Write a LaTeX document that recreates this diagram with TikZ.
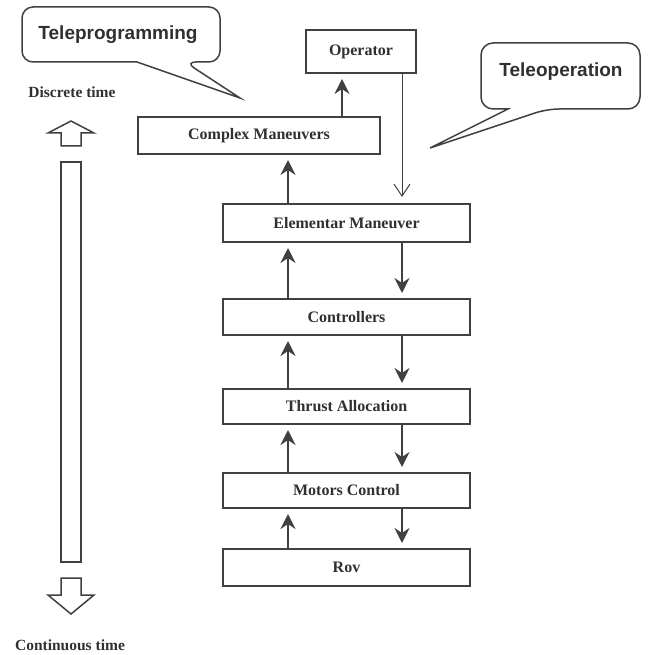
\documentclass[tikz,border=0pt]{standalone}
\usepackage{fontspec}
\setmainfont{Liberation Serif}
\newfontfamily\calloutfont{Liberation Sans}
\usetikzlibrary{arrows.meta,calc}
\definecolor{linec}{HTML}{404040}
\definecolor{textc}{HTML}{303030}
\begin{document}
\begin{tikzpicture}[x=1pt,y=-1pt,
  box/.style={draw=linec, line width=2pt, fill=white, text=textc, inner sep=0pt,
    font=\fontsize{16}{18}\selectfont\bfseries},
  wide/.style={minimum width=247pt},
  uparr/.style={draw=linec, line width=2.5pt, -{Stealth[length=15pt,width=15pt,inset=5pt]}, shorten >=5pt},
  thinarr/.style={draw=linec, line width=1pt, -{Straight Barb[length=12pt,width=16pt]}, shorten >=6pt},
  hollow/.style={draw=linec, line width=1.5pt, line join=miter},
  bubble/.style={draw=linec, line width=1.5pt, line join=miter},
  lbl/.style={text=textc, inner sep=0pt, font=\fontsize{15.5}{18}\selectfont\bfseries},
  ctext/.style={text=textc, inner sep=0pt, font=\calloutfont\fontsize{19}{22}\selectfont\bfseries}
]
\useasboundingbox (0,0) rectangle (648,655);

% boxes
\node[box, minimum width=110pt, minimum height=43pt] (op) at (361,51.5) {Operator};
\node[box, minimum width=242pt, minimum height=37pt] (cm) at (259,135.5) {Complex Maneuvers};
\node[box, wide, minimum height=38pt] (em) at (346.5,223) {Elementar Maneuver};
\node[box, wide, minimum height=36pt] (ct) at (346.5,317) {Controllers};
\node[box, wide, minimum height=35pt] (ta) at (346.5,406.5) {Thrust Allocation};
\node[box, wide, minimum height=35pt] (mc) at (346.5,490.5) {Motors Control};
\node[box, wide, minimum height=37pt] (rov) at (346.5,567.5) {Rov};

% up arrows
\draw[uparr] ([xshift=66pt]rov.north west) -- ([xshift=66pt]mc.south west);
\draw[uparr] ([xshift=66pt]mc.north west) -- ([xshift=66pt]ta.south west);
\draw[uparr] ([xshift=66pt]ta.north west) -- ([xshift=66pt]ct.south west);
\draw[uparr] ([xshift=66pt]ct.north west) -- ([xshift=66pt]em.south west);
\draw[uparr] ([xshift=66pt]em.north west) -- ([xshift=151pt]cm.south west);
\draw[uparr] ([xshift=205pt]cm.north west) -- ([xshift=37pt]op.south west);

% down arrows
\draw[uparr] ([xshift=180pt]em.south west) -- ([xshift=180pt]ct.north west);
\draw[uparr] ([xshift=180pt]ct.south west) -- ([xshift=180pt]ta.north west);
\draw[uparr] ([xshift=180pt]ta.south west) -- ([xshift=180pt]mc.north west);
\draw[uparr] ([xshift=180pt]mc.south west) -- ([xshift=180pt]rov.north west);
\draw[thinarr] ([xshift=97pt]op.south west) -- ([xshift=180pt]em.north west);

% time axis
\draw[hollow] (61,146) -- (61,133) -- (48,133) -- (71,121) -- (94,133) -- (81,133) -- (81,146) -- cycle;
\draw[hollow] (61,162) rectangle (81,562);
\draw[hollow] (61,578) -- (81,578) -- (81,595) -- (94,595) -- (71,614) -- (48,595) -- (61,595) -- cycle;
\node[lbl] (dt) at (72,92) {Discrete time};
\node[lbl] (cti) at (70,645) {Continuous time};

% callouts
\draw[bubble] (137,62) [rounded corners=11pt] -- (22,62) -- (22,7) -- (220,7) -- (220,62) -- (185,62) [sharp corners] -- (240,98) -- cycle;
\node[ctext] (tp) at (118,35) {Teleprogramming};
\draw[bubble] (508,109) [rounded corners=12pt] -- (481,109) -- (481,43) -- (640,43) -- (640,109) -- (547,109) [sharp corners] -- (430,148) -- cycle;
\node[ctext] (to) at (561,72) {Teleoperation};
\end{tikzpicture}
\end{document}
